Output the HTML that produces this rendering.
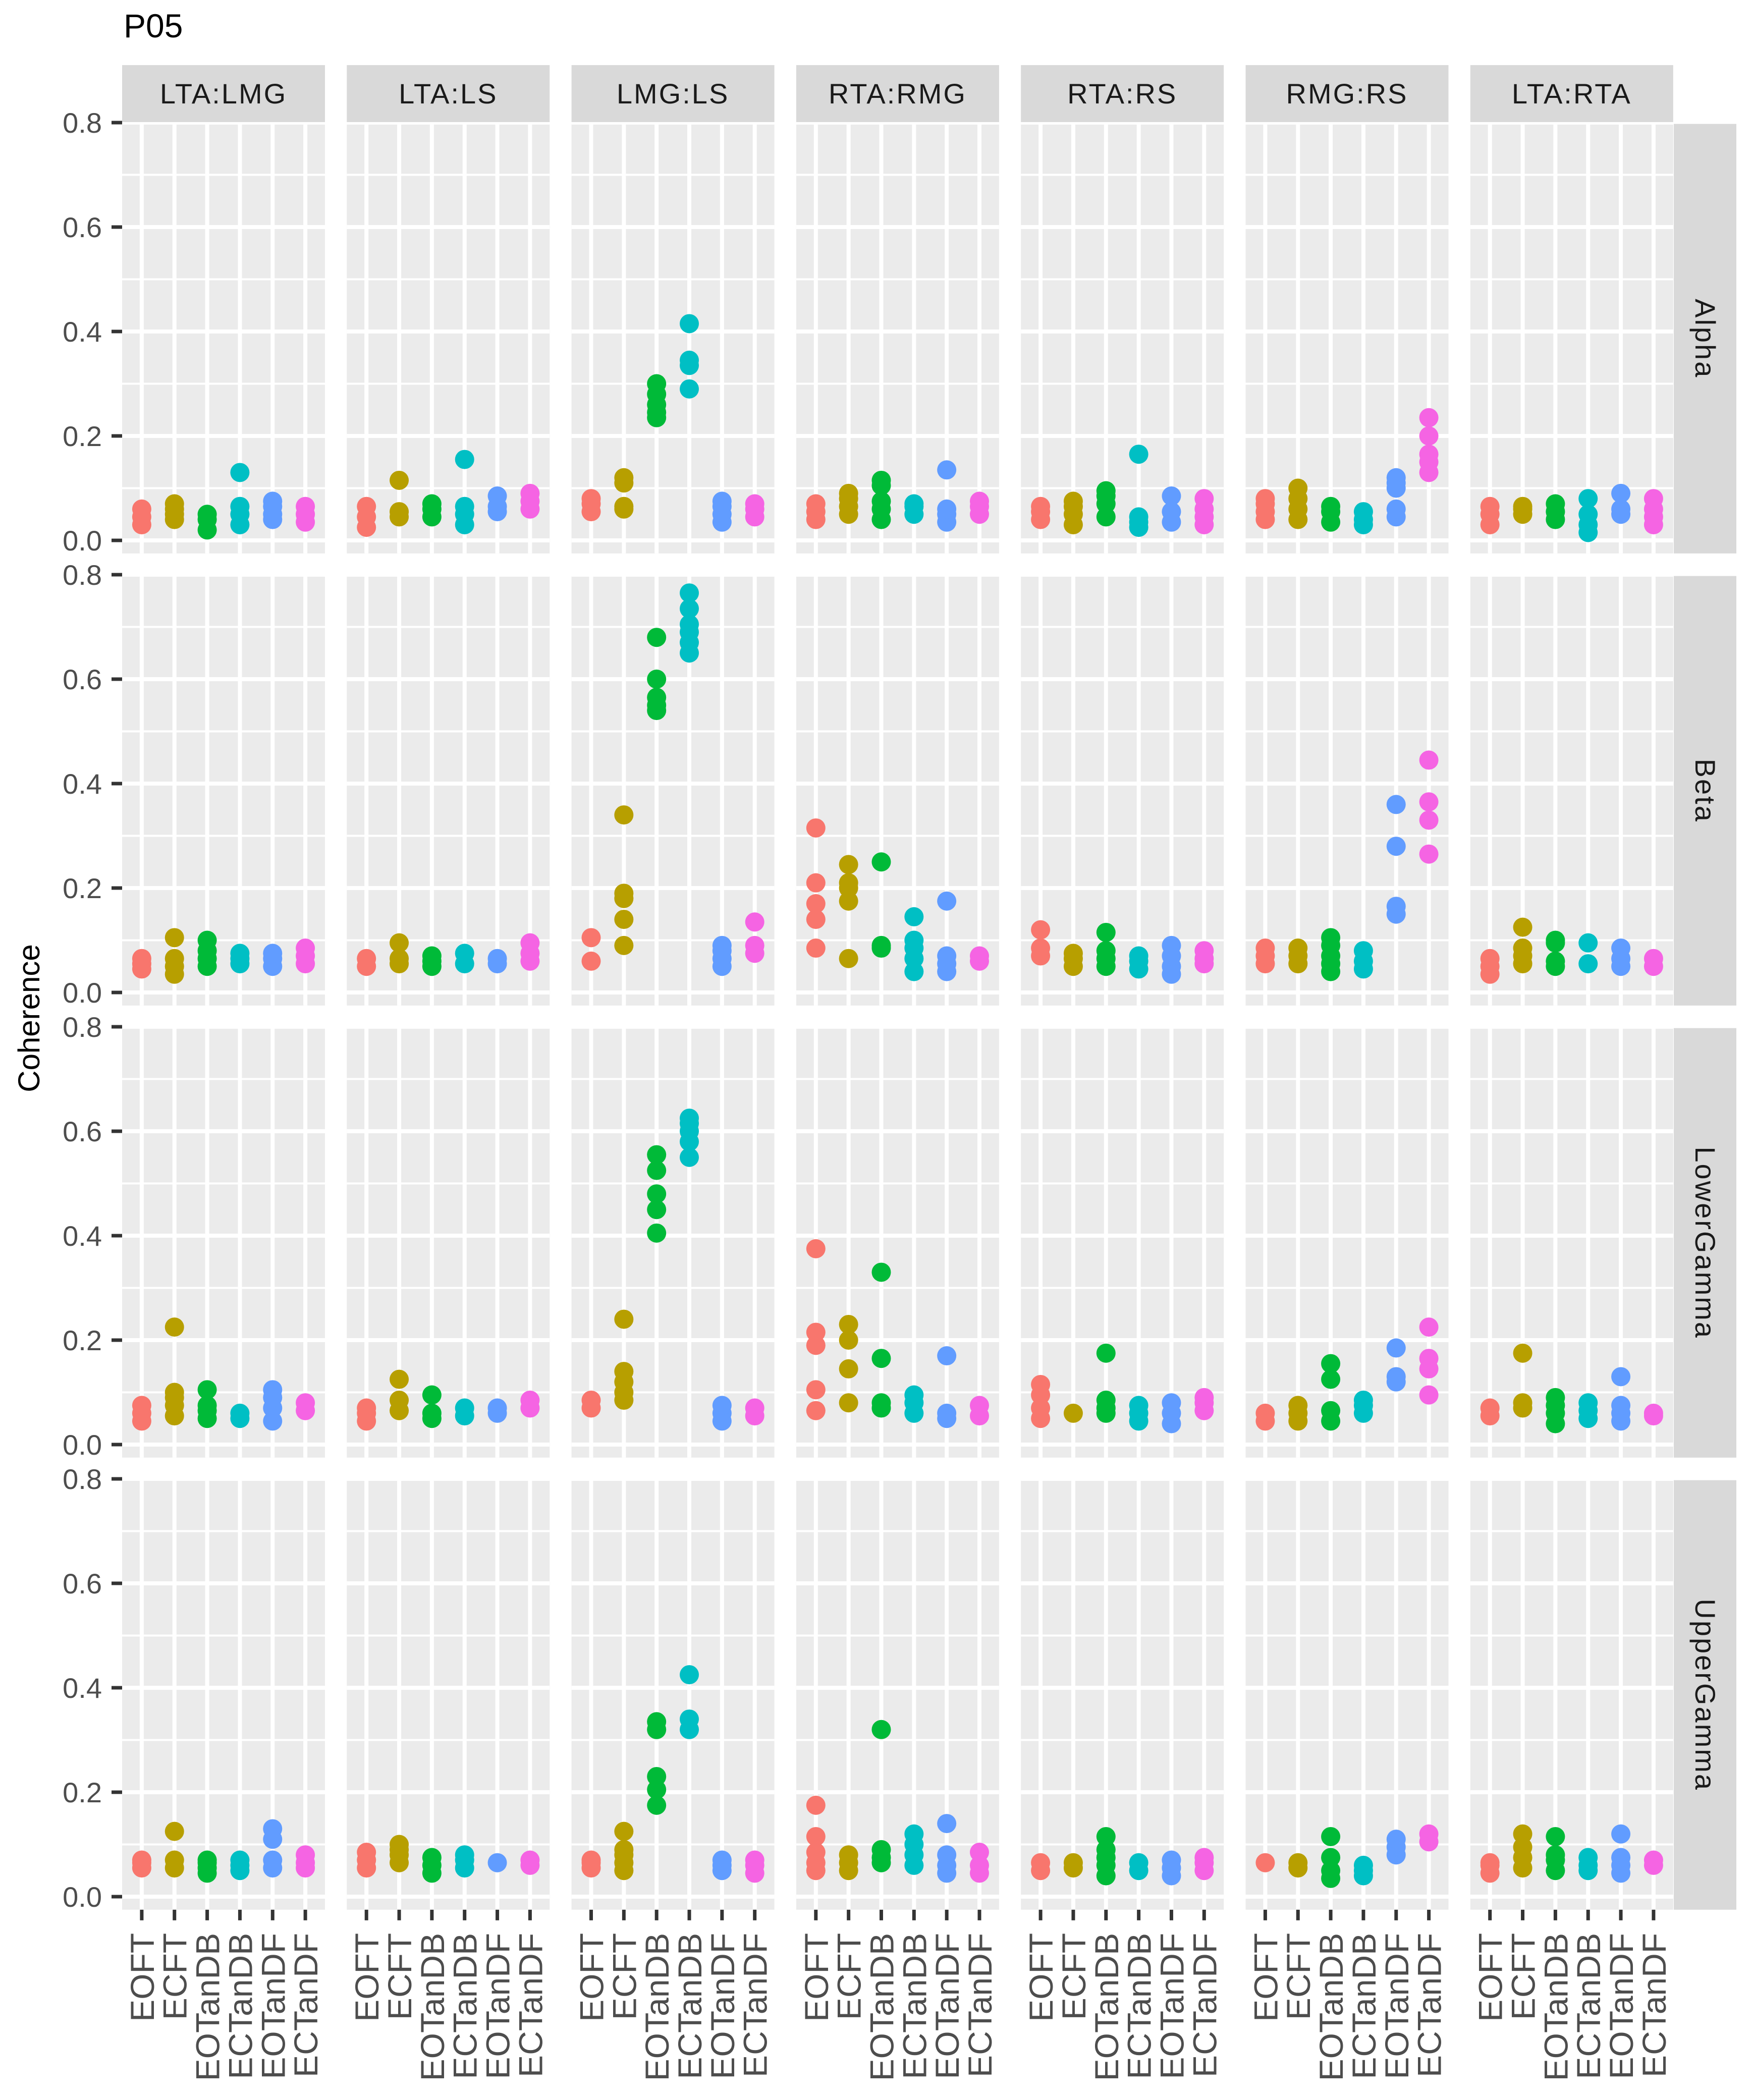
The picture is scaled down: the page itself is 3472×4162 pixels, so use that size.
<!DOCTYPE html>
<html><head><meta charset="utf-8"><style>
html,body{margin:0;padding:0;background:#fff;}
svg{display:block;font-family:"Liberation Sans",sans-serif;}
</style></head><body>
<svg id="chart" width="3472" height="4162" viewBox="0 0 3472 4162" xmlns="http://www.w3.org/2000/svg">
<rect width="3472" height="4162" fill="#fff"/>
<text x="245" y="74" font-size="66" fill="#000">P05</text>
<text transform="translate(78,2018) rotate(-90)" text-anchor="middle" font-size="60" fill="#000">Coherence</text>
</svg>
<script>
const pairs = ["LTA:LMG","LTA:LS","LMG:LS","RTA:RMG","RTA:RS","RMG:RS","LTA:RTA"];
const bands = ["Alpha","Beta","LowerGamma","UpperGamma"];
const conditions = ["EOFT","ECFT","EOTanDB","ECTanDB","EOTanDF","ECTanDF"];
const yTicks = [0,0.2,0.4,0.6,0.8];
const yTickLabels = ["0.0","0.2","0.4","0.6","0.8"];
const colors = ["#F8766D","#B79F00","#00BA38","#00BFC4","#619CFF","#F564E3"];

const alphaValues = [
 [[0.03,0.045,0.06],[0.04,0.05,0.06,0.07],[0.02,0.04,0.05],[0.03,0.05,0.065,0.13],[0.04,0.05,0.065,0.075],[0.035,0.05,0.065]],
 [[0.025,0.045,0.065],[0.045,0.055,0.115],[0.045,0.06,0.07],[0.03,0.05,0.065,0.155],[0.055,0.065,0.085],[0.06,0.075,0.09]],
 [[0.055,0.07,0.08],[0.06,0.065,0.11,0.12],[0.235,0.245,0.26,0.28,0.3],[0.29,0.335,0.345,0.415],[0.035,0.05,0.065,0.075],[0.045,0.06,0.07]],
 [[0.04,0.055,0.07],[0.05,0.065,0.08,0.09],[0.04,0.06,0.075,0.105,0.115],[0.05,0.065,0.07],[0.035,0.05,0.06,0.135],[0.05,0.065,0.075]],
 [[0.04,0.055,0.065],[0.03,0.05,0.065,0.075],[0.045,0.07,0.085,0.095],[0.025,0.035,0.045,0.165],[0.035,0.055,0.085],[0.03,0.045,0.06,0.08]],
 [[0.04,0.055,0.07,0.08],[0.04,0.06,0.08,0.1],[0.035,0.055,0.065],[0.03,0.04,0.055],[0.045,0.06,0.1,0.11,0.12],[0.13,0.15,0.165,0.2,0.235]],
 [[0.03,0.05,0.065],[0.05,0.06,0.065],[0.04,0.055,0.07],[0.015,0.03,0.05,0.08],[0.05,0.06,0.09],[0.03,0.045,0.06,0.08]]
];
const betaValues = [
 [[0.045,0.055,0.065],[0.035,0.05,0.065,0.105],[0.05,0.065,0.08,0.1],[0.055,0.065,0.075],[0.05,0.065,0.075],[0.055,0.07,0.085]],
 [[0.05,0.065],[0.055,0.065,0.095],[0.05,0.06,0.07],[0.055,0.075],[0.055,0.065],[0.06,0.075,0.095]],
 [[0.06,0.105],[0.09,0.14,0.18,0.19,0.34],[0.54,0.55,0.565,0.6,0.68],[0.65,0.67,0.69,0.705,0.735,0.765],[0.05,0.065,0.08,0.09],[0.075,0.09,0.135]],
 [[0.085,0.14,0.17,0.21,0.315],[0.065,0.175,0.2,0.21,0.245],[0.085,0.09,0.25],[0.04,0.065,0.085,0.1,0.145],[0.04,0.055,0.07,0.175],[0.06,0.07]],
 [[0.07,0.085,0.12],[0.05,0.065,0.075],[0.05,0.065,0.08,0.115],[0.045,0.06,0.07],[0.035,0.05,0.07,0.09],[0.055,0.065,0.08]],
 [[0.055,0.07,0.085],[0.055,0.07,0.085],[0.04,0.055,0.07,0.09,0.105],[0.045,0.06,0.08],[0.15,0.165,0.28,0.36],[0.265,0.33,0.365,0.445]],
 [[0.035,0.05,0.065],[0.055,0.07,0.085,0.125],[0.05,0.06,0.095,0.1],[0.055,0.095],[0.05,0.065,0.085],[0.05,0.065]]
];
const lowerGammaValues = [
 [[0.045,0.06,0.075],[0.055,0.075,0.09,0.1,0.225],[0.05,0.065,0.075,0.105],[0.05,0.06],[0.045,0.07,0.09,0.105],[0.065,0.08]],
 [[0.045,0.06,0.07],[0.065,0.085,0.125],[0.05,0.06,0.095],[0.055,0.07],[0.06,0.07],[0.07,0.085]],
 [[0.07,0.085],[0.085,0.1,0.12,0.14,0.24],[0.405,0.45,0.48,0.525,0.555],[0.55,0.58,0.6,0.615,0.625],[0.045,0.06,0.075],[0.055,0.07]],
 [[0.065,0.105,0.19,0.215,0.375],[0.08,0.145,0.2,0.23],[0.07,0.08,0.165,0.33],[0.06,0.08,0.095],[0.05,0.06,0.17],[0.055,0.075]],
 [[0.05,0.07,0.095,0.115],[0.06],[0.06,0.07,0.085,0.175],[0.045,0.06,0.075],[0.04,0.06,0.08],[0.065,0.08,0.09]],
 [[0.045,0.06],[0.045,0.06,0.075],[0.045,0.065,0.125,0.155],[0.06,0.075,0.085],[0.12,0.13,0.185],[0.095,0.145,0.165,0.225]],
 [[0.055,0.07],[0.07,0.08,0.175],[0.04,0.06,0.075,0.09],[0.05,0.065,0.08],[0.045,0.06,0.075,0.13],[0.055,0.06]]
];
const upperGammaValues = [
 [[0.055,0.065,0.07],[0.055,0.07,0.125],[0.045,0.055,0.065,0.07],[0.05,0.06,0.07],[0.055,0.07,0.11,0.13],[0.055,0.065,0.08]],
 [[0.055,0.07,0.085],[0.065,0.08,0.09,0.1],[0.045,0.06,0.075],[0.055,0.07,0.08],[0.065],[0.06,0.07]],
 [[0.055,0.065,0.07],[0.05,0.065,0.08,0.09,0.125],[0.175,0.205,0.23,0.32,0.335],[0.32,0.34,0.425],[0.05,0.06,0.07],[0.045,0.06,0.07]],
 [[0.05,0.065,0.085,0.115,0.175],[0.05,0.065,0.08],[0.065,0.075,0.09,0.32],[0.06,0.08,0.1,0.12],[0.045,0.06,0.08,0.14],[0.045,0.06,0.085]],
 [[0.05,0.065],[0.055,0.065],[0.04,0.06,0.075,0.09,0.115],[0.05,0.065],[0.04,0.055,0.07],[0.05,0.065,0.075]],
 [[0.065],[0.055,0.065],[0.035,0.05,0.075,0.115],[0.04,0.05,0.06],[0.08,0.095,0.11],[0.105,0.12]],
 [[0.045,0.06,0.065],[0.055,0.075,0.095,0.12],[0.05,0.07,0.08,0.115],[0.05,0.06,0.075],[0.045,0.06,0.075,0.12],[0.06,0.07]]
];
const bandValues = [alphaValues, betaValues, lowerGammaValues, upperGammaValues];

const NS = "http://www.w3.org/2000/svg";
const svg = document.getElementById('chart');
const PL = 242, PW = 402, PITCH = 445.3;
const ZERO0 = 1071, ROWP = 896, UNIT = 1035;
const YMAX = 0.7975, YMIN = -0.025;
function mk(tag, attrs){ const e = document.createElementNS(NS, tag); for (const k in attrs) e.setAttribute(k, attrs[k]); return e; }
function yScale(r, v){ return ZERO0 + r*ROWP - v*UNIT; }
function xScale(c, i){ const step = PW/(conditions.length + 0.2); return PL + c*PITCH + step*(0.6 + i); }
function panelTop(r){ return yScale(r, YMAX); }
function panelBot(r){ return yScale(r, YMIN); }

pairs.forEach((p, c) => {
  const g = mk('g', {});
  
  
  g.appendChild(mk('rect', {x: PL + c*PITCH, y: 129, width: PW, height: 113, fill: '#D9D9D9'}));
  const t = mk('text', {x: PL + c*PITCH + PW/2, y: 205, 'text-anchor': 'middle', 'font-size': 56, 'letter-spacing': 3, fill: '#1A1A1A'});
  t.textContent = p;
  g.appendChild(t);
  svg.appendChild(g);
});

bands.forEach((b, r) => {
  const top = panelTop(r), bot = panelBot(r);
  const sg = mk('g', {});
  
  
  sg.appendChild(mk('rect', {x: 3317, y: top, width: 124, height: bot - top, fill: '#D9D9D9'}));
  const st = mk('text', {transform: `translate(3360,${(top+bot)/2}) rotate(90)`, 'text-anchor': 'middle', 'font-size': 56, 'letter-spacing': 3, fill: '#1A1A1A'});
  st.textContent = b;
  sg.appendChild(st);
  svg.appendChild(sg);

  const ya = mk('g', {});
  
  
  yTicks.forEach((v, k) => {
    const y = yScale(r, v);
    ya.appendChild(mk('line', {x1: 221, x2: 242, y1: y, y2: y, stroke: '#333', 'stroke-width': 7}));
    const tl = mk('text', {x: 202, y: y + 20, 'text-anchor': 'end', 'font-size': 56, fill: '#4D4D4D'});
    tl.textContent = yTickLabels[k];
    ya.appendChild(tl);
  });
  svg.appendChild(ya);

  pairs.forEach((p, c) => {
    const left = PL + c*PITCH;
    const pg = mk('g', {});
    
    
    const cp = 'clip' + r + '_' + c;
    const cl = mk('clipPath', {id: cp});
    cl.appendChild(mk('rect', {x: left, y: top, width: PW, height: bot - top}));
    pg.appendChild(cl);
    pg.appendChild(mk('rect', {x: left, y: top, width: PW, height: bot - top, fill: '#EBEBEB'}));
    const grid = mk('g', {'clip-path': `url(#${cp})`, stroke: '#fff'});
    for (let v = 0.1; v < 0.8; v += 0.2) {
      const y = yScale(r, v);
      grid.appendChild(mk('line', {x1: left, x2: left + PW, y1: y, y2: y, 'stroke-width': 4}));
    }
    yTicks.forEach(v => {
      const y = yScale(r, v);
      grid.appendChild(mk('line', {x1: left, x2: left + PW, y1: y, y2: y, 'stroke-width': 8}));
    });
    conditions.forEach((cond, i) => {
      const x = xScale(c, i);
      grid.appendChild(mk('line', {x1: x, x2: x, y1: top, y2: bot, 'stroke-width': 8}));
    });
    pg.appendChild(grid);
    const vals = bandValues[r][c];
    conditions.forEach((cond, i) => {
      vals[i].forEach(v => {
        const pt = mk('circle', {cx: xScale(c, i), cy: yScale(r, v), r: 19, fill: colors[i]});
        
        
        pg.appendChild(pt);
      });
    });
    svg.appendChild(pg);
  });
});

const lastBot = panelBot(bands.length - 1);
pairs.forEach((p, c) => {
  const xg = mk('g', {});
  
  
  conditions.forEach((cond, i) => {
    const x = xScale(c, i);
    xg.appendChild(mk('line', {x1: x, x2: x, y1: lastBot, y2: lastBot + 21, stroke: '#333', 'stroke-width': 7}));
    const t = mk('text', {transform: `translate(${x + 24},${lastBot + 46}) rotate(-90)`, 'text-anchor': 'end', 'font-size': 66, fill: '#4D4D4D'});
    t.textContent = cond;
    xg.appendChild(t);
  });
  svg.appendChild(xg);
});
</script>
</body></html>
